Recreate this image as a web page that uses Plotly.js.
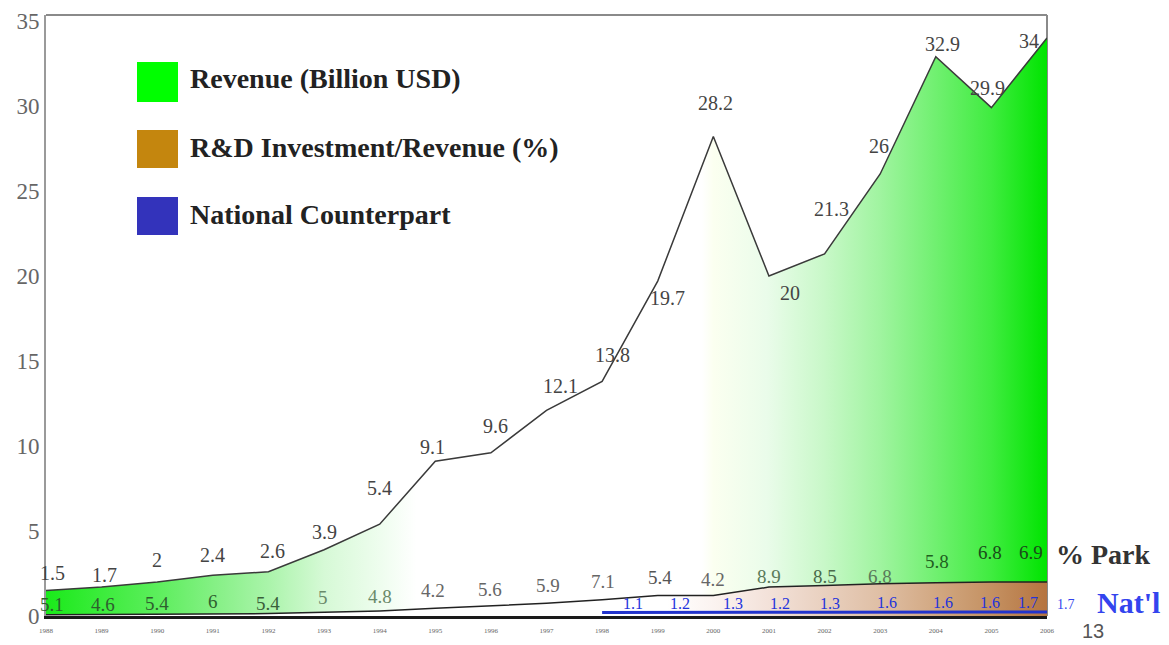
<!DOCTYPE html>
<html>
<head>
<meta charset="utf-8">
<script src="https://cdn.plot.ly/plotly-3.0.1.min.js"></script>
<style>
  html, body { margin: 0; padding: 0; background: #ffffff; }
  #chart { width: 1169px; height: 645px; }
</style>
</head>
<body>
<div id="chart"></div>
<script>
// ---------------- DATA ----------------
const years = [1988,1989,1990,1991,1992,1993,1994,1995,1996,1997,1998,1999,2000,2001,2002,2003,2004,2005,2006];
const revenue = [1.5,1.7,2,2.4,2.6,3.9,5.4,9.1,9.6,12.1,13.8,19.7,28.2,20,21.3,26,32.9,29.9,34];
const rdPctPark = [5.1,4.6,5.4,6,5.4,5,4.8,4.2,5.6,5.9,7.1,5.4,4.2,8.9,8.5,6.8,5.8,6.8,6.9];
const rdAmount = [0.08,0.09,0.1,0.13,0.14,0.22,0.3,0.45,0.58,0.75,0.95,1.2,1.2,1.7,1.8,1.9,1.95,2.0,2.0];
const natYears = [1998,1999,2000,2001,2002,2003,2004,2005,2006];
const natPct = [1.1,1.2,1.3,1.2,1.3,1.6,1.6,1.6,1.7];
const natLevel = [0.2,0.22,0.22,0.22,0.22,0.24,0.24,0.24,0.24];
const yTickVals = [0,5,10,15,20,25,30,35];
const legendLabels = ['Revenue (Billion USD)', 'R&D Investment/Revenue (%)', 'National Counterpart'];
const parkLabel = '% Park';
const natLabel = "Nat'l";
const natEndValue = '1.7';
const cornerNote = '13';

// ---------------- STYLE / LAYOUT HELPERS ----------------
const W = 1169, H = 645;
const M = {l: 46, r: 122, t: 15, b: 29};
const PW = W - M.l - M.r, PH = H - M.t - M.b;
const px = x => (x - M.l) / PW;
const py = y => (H - M.b - y) / PH;
const SERIF = '"Liberation Serif", "Times New Roman", serif';

// label offsets in pixels [xshift, yshift]
const revShift = [[6,18],[3,12],[0,22],[0,20],[4,21],[0,18],[0,36],[-3,14],[5,27],[14,24],[10,26],[10,-17],[2,34],[21,-17],[7,45],[-1,28],[7,13],[-4,20],[-18,-3]];
const pctShift = [[6,10],[1,10],[0,11],[0,12],[0,10],[-1,15],[0,14],[-2,18],[-1,17],[1,18],[1,18],[2,18],[0,16],[0,11],[0,9],[0,7],[1,21],[-1,30],[-16,30]];
const pctColor = ['#2f5f2f','#2f5f2f','#2f5f2f','#2f5f2f','#3a5f3a','#6a8a6a','#6a8a6a','#666','#666','#666','#666','#555','#666','#5a7a5a','#4a6a4a','#5a7a5a','#1f5f1f','#1a4a1a','#1a4a1a'];
const natShift = [31,22,20,11,5,7,7,-1,-19];

const traces = [
  {
    x: years, y: revenue, type: 'scatter', mode: 'lines',
    name: legendLabels[0],
    line: {color: '#3a3a3a', width: 1.5},
    fill: 'tozeroy',
    fillgradient: {
      type: 'horizontal', start: 1988, stop: 2006,
      colorscale: [
        [0, '#1aea1a'], [0.056, '#3cec3c'], [0.111, '#5cee5c'], [0.167, '#84f084'],
        [0.222, '#aaf4aa'], [0.278, '#d6f9d6'], [0.333, '#eefdee'], [0.37, '#ffffff'],
        [0.655, '#ffffff'], [0.667, '#fbfff0'], [0.72, '#eafcea'], [0.778, '#c8f8c8'],
        [0.833, '#a0f4a0'], [0.889, '#70f070'], [0.944, '#40ec40'], [1, '#00e400']
      ]
    },
    hoverinfo: 'x+y'
  },
  {
    x: years, y: rdAmount, type: 'scatter', mode: 'lines',
    name: legendLabels[1],
    line: {color: '#222', width: 1.5},
    fill: 'tozeroy',
    fillgradient: {
      type: 'horizontal', start: 1988, stop: 2006,
      colorscale: [
        [0, '#ffffff'], [0.62, '#ffffff'], [0.667, '#fbf3f0'], [0.72, '#f3e2da'],
        [0.833, '#dfbfa5'], [0.889, '#d2a882'], [0.944, '#c49162'], [1, '#b57440']
      ]
    },
    hoverinfo: 'x+y'
  },
  {
    x: natYears, y: natLevel, type: 'scatter', mode: 'lines',
    name: legendLabels[2],
    line: {color: '#2233cc', width: 3},
    hoverinfo: 'x+y'
  }
];

const annotations = [];
years.forEach((yr, i) => {
  annotations.push({
    x: yr, y: revenue[i], xref: 'x', yref: 'y', text: String(revenue[i]),
    xanchor: 'center', yanchor: 'middle',
    showarrow: false, xshift: revShift[i][0], yshift: revShift[i][1],
    font: {family: SERIF, size: 20, color: '#444'}
  });
  annotations.push({
    x: yr, y: rdAmount[i], xref: 'x', yref: 'y', text: String(rdPctPark[i]),
    xanchor: 'center', yanchor: 'middle',
    showarrow: false, xshift: pctShift[i][0], yshift: pctShift[i][1],
    font: {family: SERIF, size: 19, color: pctColor[i]}
  });
});
natYears.forEach((yr, i) => {
  annotations.push({
    x: yr, y: natLevel[i], xref: 'x', yref: 'y', text: String(natPct[i]),
    xanchor: 'center', yanchor: 'middle',
    showarrow: false, xshift: natShift[i], yshift: 9,
    font: {family: SERIF, size: 16, color: '#2233dd'}
  });
});
const legY = [78, 147, 214];
legendLabels.forEach((t, i) => {
  annotations.push({
    x: px(188), y: py(legY[i]), xref: 'paper', yref: 'paper', xanchor: 'left', yanchor: 'middle',
    text: '<b>' + t.replace('&', '&amp;') + '</b>', showarrow: false,
    font: {family: SERIF, size: 28, color: '#222'}
  });
});
function sideLabel(cx, cy, text, font) {
  annotations.push({x: px(cx), y: py(cy), xref: 'paper', yref: 'paper', xanchor: 'center', yanchor: 'middle',
    text: text, showarrow: false, font: font});
}
sideLabel(1103, 554, '<b>' + parkLabel + '</b>', {family: SERIF, size: 28, color: '#333'});
sideLabel(1128, 602, '<b>' + natLabel + '</b>', {family: SERIF, size: 30, color: '#3344ee'});
sideLabel(1066, 604, natEndValue, {family: SERIF, size: 14, color: '#3344ee'});
sideLabel(1093, 631, cornerNote, {family: '"Liberation Sans", Arial, sans-serif', size: 20, color: '#555'});

const legColors = ['#00ff00', '#c4860e', '#3333bb'];
const legBoxes = [[62, 102], [130, 168], [197, 235]];
const shapes = [
  {type: 'line', xref: 'paper', yref: 'paper', x0: 0, x1: 1, y0: 1, y1: 1, line: {color: '#8a8a8a', width: 2}, layer: 'below'},
  {type: 'line', xref: 'paper', yref: 'paper', x0: 1, x1: 1, y0: 0, y1: 1, line: {color: '#8a8a8a', width: 2}, layer: 'below'}
];
legBoxes.forEach((b, i) => {
  shapes.push({type: 'rect', xref: 'paper', yref: 'paper', x0: px(137), x1: px(178), y0: py(b[1]), y1: py(b[0]),
    fillcolor: legColors[i], line: {width: 0}});
});

const layout = {
  width: W, height: H,
  margin: M,
  paper_bgcolor: '#ffffff', plot_bgcolor: '#ffffff',
  showlegend: false,
  xaxis: {
    range: [1988, 2006], tickvals: years, ticktext: years.map(String),
    tickfont: {family: SERIF, size: 7, color: '#666'},
    showgrid: false, zeroline: false,
    showline: true, linecolor: '#1a1a1a', linewidth: 3,
    ticks: '', ticklabelstandoff: 6
  },
  yaxis: {
    range: [0, 35.35], tickvals: yTickVals,
    tickfont: {family: SERIF, size: 23, color: '#666'},
    showgrid: false, zeroline: false,
    showline: true, linecolor: '#9a9a9a', linewidth: 2,
    ticks: ''
  },
  annotations: annotations,
  shapes: shapes
};

Plotly.newPlot('chart', traces, layout, {displayModeBar: false, staticPlot: true});
</script>
</body>
</html>
